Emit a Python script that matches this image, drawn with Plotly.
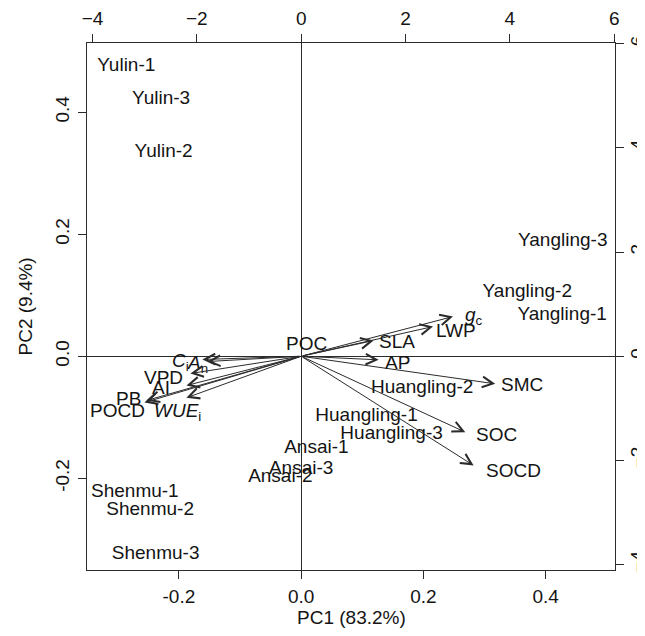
import plotly.graph_objects as go

# ---------------- data ----------------
samples = ["Yulin-1", "Yulin-3", "Yulin-2", "Shenmu-1", "Shenmu-2", "Shenmu-3",
           "Ansai-1", "Ansai-2", "Ansai-3", "Huangling-1", "Huangling-2", "Huangling-3",
           "Yangling-1", "Yangling-2", "Yangling-3"]
pc1_scores = [-0.286, -0.229, -0.225, -0.272, -0.247, -0.238,
              0.025, -0.034, 0.000, 0.107, 0.198, 0.148,
              0.427, 0.370, 0.428]
pc2_scores = [0.476, 0.422, 0.335, -0.223, -0.253, -0.324,
              -0.151, -0.198, -0.185, -0.099, -0.053, -0.127,
              0.067, 0.105, 0.188]

variables = ["POC", "SLA", "LWP", "gc", "AP", "SMC", "SOC", "SOCD",
             "Ci", "An", "VPD", "AI", "PB", "POCD", "WUEi"]
var_labels = ["POC", "SLA", "LWP", "<i>g</i><sub>c</sub>", "AP", "SMC", "SOC", "SOCD",
              "<i>C</i><sub>i</sub>", "<i>A</i><sub>n</sub>", "VPD", "AI", "PB", "POCD",
              "<i>WUE</i><sub>i</sub>"]
pc1_load = [0.023, 1.389, 2.527, 2.910, 1.485, 3.720, 3.146, 3.305,
            -1.893, -1.797, -2.123, -2.199, -2.966, -3.004, -2.199]
pc2_load = [0.071, 0.301, 0.570, 0.762, -0.069, -0.530, -1.458, -2.097,
            -0.063, -0.102, -0.332, -0.562, -0.850, -0.888, -0.798]

x_ticks = [-0.2, 0.0, 0.2, 0.4]
x_ticktext = ["-0.2", "0.0", "0.2", "0.4"]
y_ticks = [-0.2, 0.0, 0.2, 0.4]
y_ticktext = ["-0.2", "0.0", "0.2", "0.4"]
top_ticks = [-4, -2, 0, 2, 4, 6]
right_ticks = [-4, -2, 0, 2, 4, 6]

# ---------------- style ----------------
FONT = "Arial, 'Liberation Sans', Helvetica, sans-serif"
FS = 19
TXT = "#141414"
LINE = "#2b2b2b"
score_range = [-0.3503, 0.5135]
load_range = [-4.105, 6.015]
# pixel offsets of variable labels from arrow tips
label_shift = {
    "POC": (4, 9), "SLA": (23, -1), "LWP": (23, -4), "gc": (21, 1), "AP": (19, -3),
    "SMC": (27, -1), "SOC": (31, -2), "SOCD": (40, -5), "Ci": (-22, -2),
    "An": (-10, -2), "VPD": (-27, -4), "AI": (-25, -2), "PB": (-18, 2),
    "POCD": (-27, -8), "WUEi": (-9, -14),
}

fig = go.Figure()

fig.add_trace(go.Scatter(
    x=pc1_scores, y=pc2_scores, text=samples, mode="text",
    textposition="middle center",
    textfont=dict(family=FONT, size=FS, color=TXT),
    xaxis="x", yaxis="y", showlegend=False, hoverinfo="text"))

# invisible trace to activate secondary axes
fig.add_trace(go.Scatter(x=pc1_load, y=pc2_load, mode="markers",
                         marker=dict(size=1, opacity=0), xaxis="x2", yaxis="y2",
                         showlegend=False, hoverinfo="skip"))

annotations = []
for name, lab, vx, vy in zip(variables, var_labels, pc1_load, pc2_load):
    annotations.append(dict(
        x=vx, y=vy, ax=0, ay=0, xref="x2", yref="y2", axref="x2", ayref="y2",
        showarrow=True, arrowhead=5, arrowsize=2.1, arrowwidth=1,
        arrowcolor=LINE, text=""))
    dx, dy = label_shift[name]
    annotations.append(dict(
        x=vx, y=vy, xref="x2", yref="y2", text=lab, showarrow=False,
        xshift=dx, yshift=dy, xanchor="center", yanchor="middle",
        font=dict(family=FONT, size=FS, color=TXT)))

annotations.append(dict(x=0.5, y=0, xref="paper", yref="paper", yshift=-47,
                        text="PC1 (83.2%)", showarrow=False, yanchor="middle",
                        font=dict(family=FONT, size=FS, color=TXT)))
annotations.append(dict(x=0, y=0.5, xref="paper", yref="paper", xshift=-62,
                        text="PC2 (9.4%)", showarrow=False, xanchor="center",
                        textangle=-90,
                        font=dict(family=FONT, size=FS, color=TXT)))

axis_common = dict(showgrid=False, showline=True, linecolor=LINE, linewidth=1.2,
                   ticks="outside", ticklen=8, tickwidth=1, tickcolor=LINE,
                   tickfont=dict(family=FONT, size=FS, color=TXT))

# the page body adds an 8px offset, so the figure is 8px smaller than the window
fig.update_layout(
    template="none",
    width=637, height=628,
    margin=dict(l=79, r=30, t=35, b=66),
    paper_bgcolor="white", plot_bgcolor="white",
    xaxis=dict(range=score_range, tickvals=x_ticks, ticktext=x_ticktext,
               zeroline=True, zerolinecolor=LINE, zerolinewidth=1.2,
               ticklabelstandoff=1, **axis_common),
    yaxis=dict(range=score_range, tickvals=y_ticks, ticktext=y_ticktext,
               zeroline=True, zerolinecolor=LINE, zerolinewidth=1.2,
               tickangle=-90, ticklabelstandoff=1, **axis_common),
    xaxis2=dict(range=load_range, tickvals=top_ticks, overlaying="x", side="top",
                zeroline=False, ticklabelstandoff=1, **axis_common),
    yaxis2=dict(range=load_range, tickvals=right_ticks, overlaying="y", side="right",
                zeroline=False, tickangle=-90, ticklabelstandoff=-3, **axis_common),
    annotations=annotations,
)

fig.write_html("out.html")
